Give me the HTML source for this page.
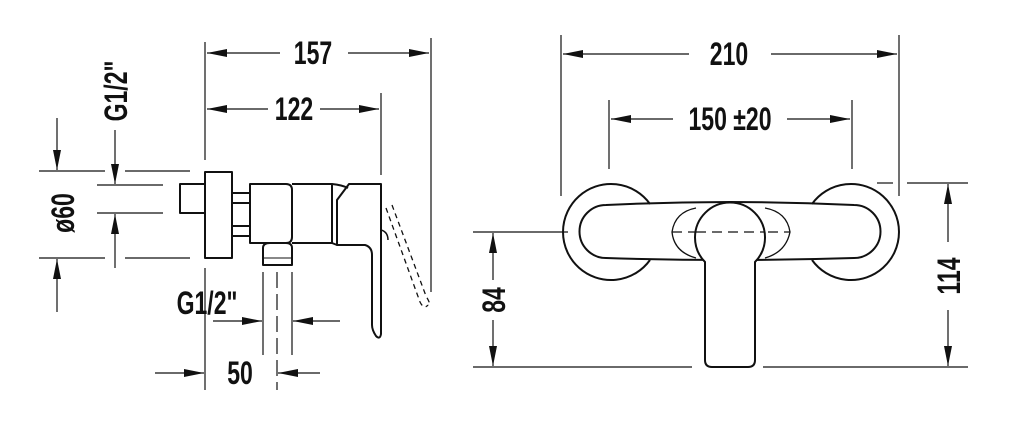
<!DOCTYPE html>
<html><head><meta charset="utf-8"><style>
html,body{margin:0;padding:0;background:#fff;}
svg{display:block}
text{font-family:"Liberation Sans",sans-serif;font-weight:bold;font-size:32px;fill:#111;}
</style></head><body>
<svg width="1024" height="425" viewBox="0 0 1024 425" xmlns="http://www.w3.org/2000/svg">
<defs>
<marker id="a" viewBox="0 0 20 8" refX="20" refY="4" markerWidth="20" markerHeight="8" markerUnits="userSpaceOnUse" orient="auto"><path d="M0,0 L20,4 L0,8 Z" fill="#111"/></marker>
</defs>
<g stroke="#111" stroke-width="1.2" fill="none">
<line x1="205" y1="42" x2="205" y2="160"/>
<line x1="205" y1="268" x2="205" y2="390"/>
<line x1="431" y1="38" x2="431" y2="292"/>
<line x1="381" y1="93" x2="381" y2="175"/>
<line x1="280" y1="53" x2="207" y2="53" marker-end="url(#a)"/>
<line x1="348" y1="53" x2="429" y2="53" marker-end="url(#a)"/>
<line x1="268" y1="109" x2="207" y2="109" marker-end="url(#a)"/>
<line x1="320" y1="109" x2="379" y2="109" marker-end="url(#a)"/>
<line x1="39" y1="171" x2="105" y2="171"/><line x1="125" y1="171" x2="190" y2="171"/>
<line x1="39" y1="258" x2="105" y2="258"/><line x1="125" y1="258" x2="190" y2="258"/>
<line x1="57" y1="118" x2="57" y2="170" marker-end="url(#a)"/>
<line x1="57" y1="312" x2="57" y2="259" marker-end="url(#a)"/>
<line x1="97" y1="185" x2="163" y2="185"/><line x1="97" y1="213" x2="163" y2="213"/>
<line x1="115" y1="130" x2="115" y2="184" marker-end="url(#a)"/>
<line x1="115" y1="268" x2="115" y2="214" marker-end="url(#a)"/>
<line x1="263" y1="272" x2="263" y2="355"/>
<line x1="292" y1="272" x2="292" y2="355"/>
<line x1="277" y1="272" x2="277" y2="390" stroke-dasharray="16,6"/>
<line x1="213" y1="321" x2="262" y2="321" marker-end="url(#a)"/>
<line x1="340" y1="321" x2="293" y2="321" marker-end="url(#a)"/>
<line x1="155" y1="373" x2="204" y2="373" marker-end="url(#a)"/>
<line x1="320" y1="373" x2="278" y2="373" marker-end="url(#a)"/>
</g>
<g stroke="#111" stroke-width="2" fill="none" stroke-linejoin="round">
<rect x="180" y="184" width="25" height="29"/>
<rect x="205" y="172" width="27" height="86"/>
<rect x="232" y="193" width="18" height="10"/>
<rect x="232" y="226" width="18" height="10"/>
<path d="M250,184 L286,184 Q292,184 292,190 L292,237 Q292,243 286,243 L250,243 Z"/>
<path d="M292,184 L332,184 L332,243 L292,243"/>
<path d="M332,184 Q342,185 348,188"/>
<path d="M349,184 L381,184 L381,334 Q380,340 376,336 Q372,330 372,325 L372,255 Q372,247 365,245 L337,245 L337,200 Z"/>
<line x1="337" y1="245" x2="332" y2="243"/>
<path d="M263,248 Q263,243 270,243 L286,243 Q292,243 292,248 L292,265 L263,265 Z"/>
<line x1="263" y1="258" x2="292" y2="258" stroke-width="1"/>
<path d="M381,230 Q388,232 388,240" stroke-width="1.5"/>
</g>
<g stroke="#111" stroke-width="1.3" fill="none" stroke-dasharray="5,4">
<path d="M386,208 L420,302 Q424,310 428,305"/>
<path d="M392,205 L426,296 Q432,306 428,305"/>
</g>
<g stroke="#111" stroke-width="1.2" fill="none">
<line x1="561" y1="35" x2="561" y2="196"/>
<line x1="899" y1="35" x2="899" y2="196"/>
<line x1="609" y1="100" x2="609" y2="169"/>
<line x1="852" y1="100" x2="852" y2="169"/>
<line x1="689" y1="54" x2="563" y2="54" marker-end="url(#a)"/>
<line x1="771" y1="54" x2="897" y2="54" marker-end="url(#a)"/>
<line x1="673" y1="119" x2="611" y2="119" marker-end="url(#a)"/>
<line x1="787" y1="119" x2="850" y2="119" marker-end="url(#a)"/>
<line x1="473" y1="232" x2="568" y2="232"/>
<line x1="473" y1="367" x2="692" y2="367"/>
<line x1="763" y1="367" x2="968" y2="367"/>
<line x1="877" y1="183" x2="893" y2="183"/>
<line x1="907" y1="183" x2="968" y2="183"/>
<line x1="493" y1="280" x2="493" y2="233" marker-end="url(#a)"/>
<line x1="493" y1="320" x2="493" y2="366" marker-end="url(#a)"/>
<line x1="948" y1="242" x2="948" y2="184" marker-end="url(#a)"/>
<line x1="948" y1="310" x2="948" y2="366" marker-end="url(#a)"/>
</g>
<g stroke="#111" stroke-width="2" fill="none">
<path d="M650,204 A48,48 0 1,0 650,260"/>
<path d="M812,204 A48,48 0 1,1 812,260"/>
<path d="M606,205 Q730,199 854,205 A26.5,26.5 0 0 1 854,258 Q730,262 606,258 A26.5,26.5 0 0 1 606,205 Z"/>
<path d="M696,208 Q675,212 672,232 Q674,252 696,258" stroke-width="1.3"/>
<path d="M765,208 Q787,212 790,232 Q786,252 765,258" stroke-width="1.3"/>
<line x1="672" y1="232" x2="790" y2="232" stroke-width="1.2" stroke-dasharray="10,6"/>
<path d="M705,262 A35,35 0 1,1 755,262 L755,360 Q755,367 748,367 L712,367 Q705,367 705,360 Z" fill="#fff"/>
<line x1="696" y1="232" x2="765" y2="232" stroke-width="1.2" stroke-dasharray="10,6"/>
</g>
<g>
<text transform="translate(313,64) scale(0.72,1)" text-anchor="middle">157</text>
<text transform="translate(294,120) scale(0.72,1)" text-anchor="middle">122</text>
<text transform="translate(240,384) scale(0.72,1)" text-anchor="middle">50</text>
<text transform="translate(207,314) scale(0.72,1)" text-anchor="middle">G1/2"</text>
<text transform="translate(74,213) rotate(-90) scale(0.72,1)" text-anchor="middle">ø60</text>
<text transform="translate(127,91) rotate(-90) scale(0.72,1)" text-anchor="middle">G1/2"</text>
<text transform="translate(729,65) scale(0.72,1)" text-anchor="middle">210</text>
<text transform="translate(730,130) scale(0.72,1)" text-anchor="middle">150 ±20</text>
<text transform="translate(505,300) rotate(-90) scale(0.72,1)" text-anchor="middle">84</text>
<text transform="translate(960,276) rotate(-90) scale(0.72,1)" text-anchor="middle">114</text>
</g>
</svg>
</body></html>
